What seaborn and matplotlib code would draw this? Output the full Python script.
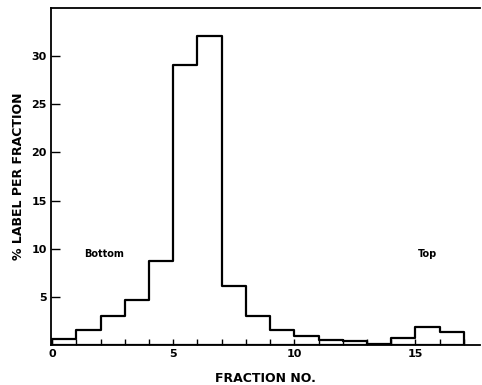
import numpy as np
import pandas as pd
import matplotlib
matplotlib.use("Agg")
import matplotlib.pyplot as plt
import seaborn as sns

# Data
fraction = list(range(0, 17))  # bin left edges 0..16
label_pct = [0.6, 1.55, 3.0, 4.7, 8.7, 29.1, 32.1, 6.1, 3.05, 1.6, 0.95,
             0.55, 0.4, 0.15, 0.75, 1.85, 1.35]
x_major = [0, 5, 10, 15]
y_ticks = [5, 10, 15, 20, 25, 30]

sns.set_style("white")
plt.rcParams['font.family'] = ['DejaVu Sans']
plt.rcParams['text.color'] = 'black'
plt.rcParams['axes.labelcolor'] = 'black'
plt.rcParams['xtick.color'] = 'black'
plt.rcParams['ytick.color'] = 'black'

df = pd.DataFrame({"fraction": np.array(fraction) + 0.5, "pct": label_pct})
edges = list(range(0, len(fraction) + 1))

fig = plt.figure(figsize=(4.82, 3.85), dpi=100)
ax = fig.add_axes([0.1058, 0.1039, 0.8902, 0.8753])

sns.histplot(data=df, x="fraction", weights="pct", binwidth=1,
             binrange=(edges[0], edges[-1]),
             element="step", fill=True, color="black", facecolor="none",
             edgecolor="black", linewidth=1.6, ax=ax)

ax.set_xlim(-0.05, 17.67)
ax.set_ylim(0, 35)

ax.set_xticks(x_major)
ax.set_xticks(edges, minor=True)
ax.set_xticklabels([str(v) for v in x_major], fontsize=8, fontweight="bold")
ax.set_yticks(y_ticks)
ax.set_yticklabels([str(v) for v in y_ticks], fontsize=8, fontweight="bold")

ax.tick_params(axis="x", which="both", direction="in", length=4.5, width=1.0,
               colors="black", pad=3, bottom=True)
ax.tick_params(axis="y", which="major", direction="in", length=6.5, width=1.0,
               colors="black", pad=3, left=True)

for side in ["left", "bottom", "top"]:
    ax.spines[side].set_visible(True)
    ax.spines[side].set_color("black")
    ax.spines[side].set_linewidth(1.3)
ax.spines["right"].set_visible(False)

ax.set_xlabel("FRACTION NO.", fontsize=9, fontweight="bold", labelpad=9,
              color="black")
ax.set_ylabel("% LABEL PER FRACTION", fontsize=9, fontweight="bold",
              labelpad=5, color="black")

ax.text(1.3, 9.5, "Bottom", fontsize=7, fontweight="bold", va="center",
        ha="left", color="black")
ax.text(15.1, 9.5, "Top", fontsize=7, fontweight="bold", va="center",
        ha="left", color="black")

fig.savefig("out.png", dpi=100)
